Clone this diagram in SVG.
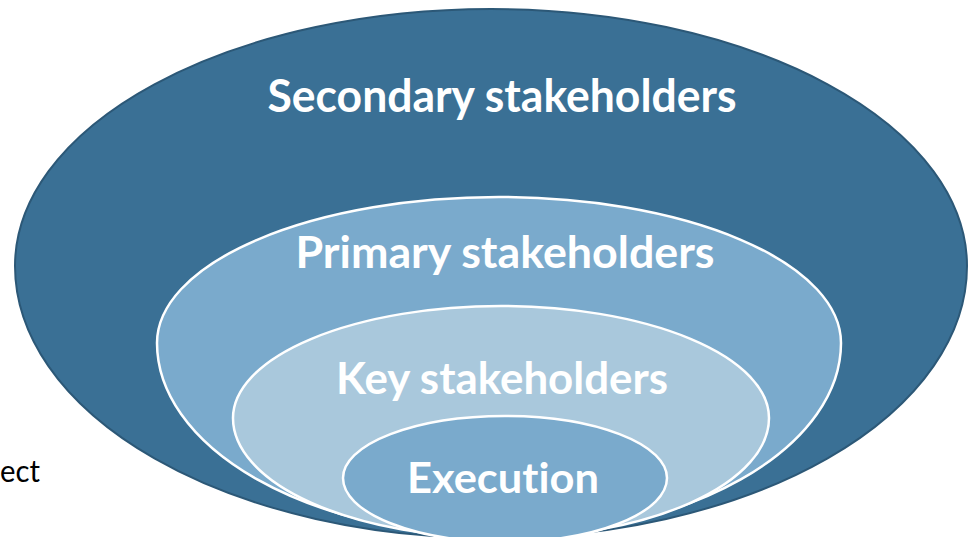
<svg xmlns="http://www.w3.org/2000/svg" width="968" height="537" viewBox="0 0 968 537">
<style>
.lbl{font-family:Lato,"Open Sans","Liberation Sans",sans-serif;font-weight:700;fill:#ffffff;text-anchor:middle;font-variant-ligatures:none}
.inner{stroke:#ffffff;stroke-width:2.5}
</style>
<rect width="968" height="537" fill="#ffffff"/>
<g id="secondary">
<path d="M15,266 A476,257 0 0 1 967,266 A476,272 0 0 1 15,266 Z" fill="#3a7095" stroke="#2c5877" stroke-width="2"/>
<text class="lbl" x="502" y="112" font-size="46" textLength="469" lengthAdjust="spacingAndGlyphs">Secondary stakeholders</text>
</g>
<g id="primary">
<path class="inner" d="M157,343 A342,146 0 0 1 841,343 A342,193 0 0 1 157,343 Z" fill="#7aaacc"/>
<text class="lbl" x="505" y="268" font-size="44" textLength="419" lengthAdjust="spacingAndGlyphs">Primary stakeholders</text>
</g>
<g id="key">
<path class="inner" d="M233,418 A268,112 0 0 1 769,418 A268,120 0 0 1 233,418 Z" fill="#a9c8dc"/>
<text class="lbl" x="502" y="394" font-size="44" textLength="332" lengthAdjust="spacingAndGlyphs">Key stakeholders</text>
</g>
<g id="execution">
<path class="inner" d="M343,478 A162,62 0 0 1 667,478 A162,64 0 0 1 343,478 Z" fill="#7aaacc"/>
<text class="lbl" x="503" y="493" font-size="42" textLength="192" lengthAdjust="spacingAndGlyphs">Execution</text>
</g>
<g id="connectors"></g>
<text x="0" y="482" font-family="Lato,'Liberation Sans',sans-serif" font-size="31" fill="#000000" textLength="40" lengthAdjust="spacingAndGlyphs">ect</text>
</svg>
